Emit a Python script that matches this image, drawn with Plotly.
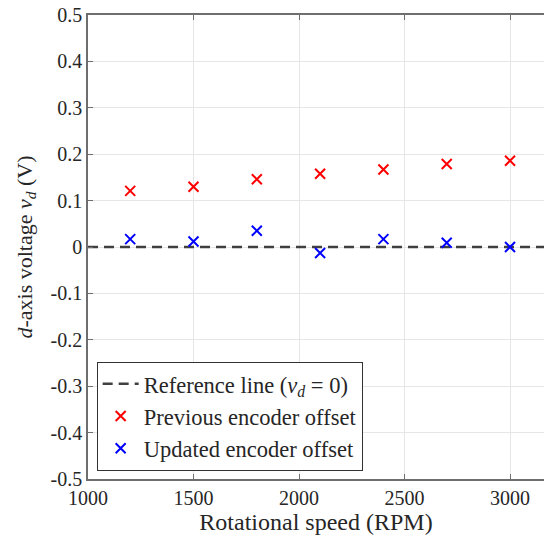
import plotly.graph_objects as go

speeds = [1200, 1500, 1800, 2100, 2400, 2700, 3000]
prev_offset = [0.121, 0.130, 0.146, 0.158, 0.167, 0.179, 0.186]
upd_offset = [0.017, 0.012, 0.035, -0.013, 0.017, 0.009, 0.000]
ref_x = [1000, 3200]
ref_y = [0, 0]
x_ticks = [1000, 1500, 2000, 2500, 3000]
y_ticks = [-0.5, -0.4, -0.3, -0.2, -0.1, 0, 0.1, 0.2, 0.3, 0.4, 0.5]
y_labels = ["-0.5", "-0.4", "-0.3", "-0.2", "-0.1", "0", "0.1", "0.2", "0.3", "0.4", "0.5"]

font = "'Liberation Serif', 'Times New Roman', 'DejaVu Serif', serif"
txt = "#262626"

fig = go.Figure()
fig.add_trace(go.Scatter(
    x=ref_x, y=ref_y, mode="lines",
    line=dict(color="#404040", width=2.5, dash="10px,6px"),
    name="Reference line (<i>v<sub>d</sub></i> = 0)"))
fig.add_trace(go.Scatter(
    x=speeds, y=prev_offset, mode="markers",
    marker=dict(symbol="x-thin", size=10, line=dict(color="#ff0000", width=2)),
    name="Previous encoder offset"))
fig.add_trace(go.Scatter(
    x=speeds, y=upd_offset, mode="markers",
    marker=dict(symbol="x-thin", size=10, line=dict(color="#0000ff", width=2)),
    name="Updated encoder offset"))

fig.update_layout(
    width=544, height=542,
    margin=dict(l=88, r=0, t=15, b=63, autoexpand=False),
    paper_bgcolor="white", plot_bgcolor="white",
    font=dict(family=font, size=20, color=txt),
    showlegend=True,
    legend=dict(x=0.019, y=0.018, xanchor="left", yanchor="bottom",
                bordercolor="#333333", borderwidth=1, bgcolor="white",
                font=dict(family=font, size=22.5, color=txt),
                tracegroupgap=0, itemwidth=36),
)
fig.update_xaxes(
    range=[1000, 3161], tickvals=x_ticks, ticktext=[str(v) for v in x_ticks],
    showgrid=True, gridcolor="#e6e6e6", gridwidth=1,
    showline=True, linecolor="#6e6e6e", linewidth=1.5, mirror="ticks",
    ticks="inside", ticklen=5, tickcolor="#6e6e6e",
    zeroline=False, automargin=False,
    tickfont=dict(family=font, size=20, color=txt),
    title=dict(text="Rotational speed (RPM)", font=dict(family=font, size=24, color=txt), standoff=1),
)
fig.update_yaxes(
    range=[-0.5, 0.5], tickvals=y_ticks, ticktext=y_labels,
    showgrid=True, gridcolor="#e6e6e6", gridwidth=1,
    showline=True, linecolor="#6e6e6e", linewidth=1.5, mirror=False,
    ticks="inside", ticklen=5, tickcolor="#6e6e6e",
    zeroline=False, automargin=False,
    tickfont=dict(family=font, size=20, color=txt),
    title=dict(text="<i>d</i>-axis voltage <i>v<sub>d</sub></i> (V)", font=dict(family=font, size=22, color=txt), standoff=12),
)

fig.write_html("out.html", config={"displayModeBar": False},
               post_script="document.body.style.margin='0';document.body.style.overflow='hidden';")
